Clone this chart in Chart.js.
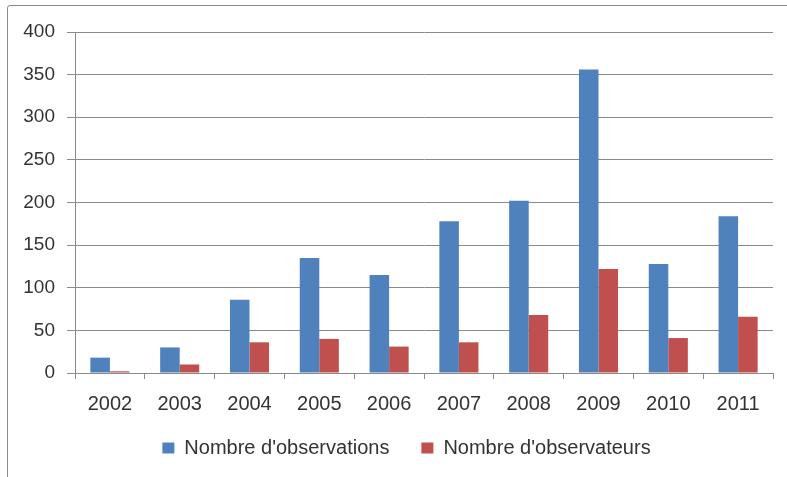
<!DOCTYPE html>
<html lang="fr">
<head>
<meta charset="UTF-8" />
<title>Observations et observateurs 2002-2011</title>
<script src="https://cdn.jsdelivr.net/npm/chart.js"></script>
<style>
  html, body { margin: 0; padding: 0; background: #fff; }
  #wrap { position: relative; width: 787px; height: 477px; overflow: hidden; }
  #frame {
    position: absolute; left: 7px; top: 5px; width: 820px; height: 520px;
    border: 1.5px solid #8c8c8c; border-radius: 3px; box-sizing: border-box;
  }
  canvas { position: absolute; left: 0; top: 0; }
</style>
</head>
<body>
<div id="wrap">
  <div id="frame"></div>
  <canvas id="chart" width="787" height="477"></canvas>
</div>
<script>
  // années (axe x)
  const years = ['2002', '2003', '2004', '2005', '2006', '2007', '2008', '2009', '2010', '2011'];
  // valeurs
  const observations = [18, 30, 86, 135, 115, 178, 202, 356, 128, 184];
  const observateurs = [2, 10, 36, 40, 31, 36, 68, 122, 41, 66];

  const gridColor = '#8a8a8a';
  const textColor = '#333333';
  const family = "'Liberation Sans', Arial, sans-serif";

  // décale un peu la légende (à droite et vers le haut) comme sur l'original
  const legendShift = {
    id: 'legendShift',
    afterLayout(chart) {
      const l = chart.legend;
      l.left += 20; l.right += 20;
      l.top -= 6; l.bottom -= 6;
    }
  };

  new Chart(document.getElementById('chart').getContext('2d'), {
    type: 'bar',
    data: {
      labels: years,
      datasets: [
        { label: "Nombre d'observations", data: observations, backgroundColor: '#4f81bd',
          categoryPercentage: 0.56, barPercentage: 1.0 },
        { label: "Nombre d'observateurs", data: observateurs, backgroundColor: '#c0504d',
          categoryPercentage: 0.56, barPercentage: 1.0 }
      ]
    },
    options: {
      responsive: false,
      animation: false,
      layout: { padding: { top: 32, right: 14, left: 0, bottom: 3 } },
      plugins: {
        tooltip: { enabled: false },
        legend: {
          position: 'bottom',
          labels: {
            boxWidth: 12, boxHeight: 11, padding: 32,
            color: textColor, font: { family: family, size: 20 }
          }
        }
      },
      scales: {
        x: {
          grid: { offset: true, drawOnChartArea: false, color: gridColor, tickLength: 6 },
          border: { color: gridColor },
          ticks: { color: textColor, font: { family: family, size: 20 }, padding: 13, maxRotation: 0 },
          afterFit: s => { s.height = 39; }
        },
        y: {
          min: 0, max: 400,
          grid: { color: gridColor, tickLength: 8 },
          border: { color: gridColor },
          ticks: { stepSize: 50, color: textColor, font: { family: family, size: 19 }, padding: 12 },
          afterFit: s => { s.width = 75; }
        }
      }
    },
    plugins: [legendShift]
  });
</script>
</body>
</html>
